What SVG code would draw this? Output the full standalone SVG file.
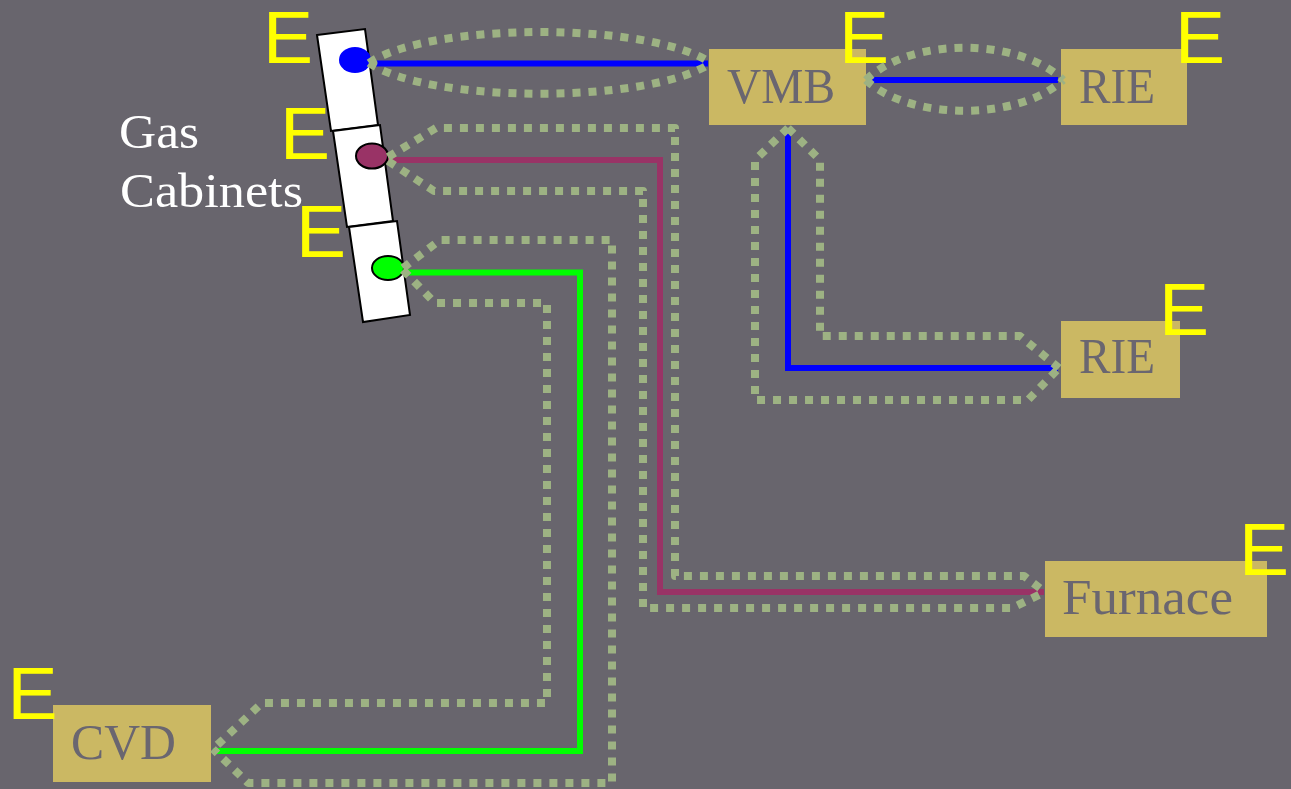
<svg xmlns="http://www.w3.org/2000/svg" width="1291" height="789" viewBox="0 0 1291 789">
<style>
.bg{fill:#68656d}
.box{fill:#cbb863}
.lbl{font-family:"Liberation Serif","Times New Roman",serif;font-size:50px;fill:#6a6670}
.e{font-family:"Liberation Sans",Arial,sans-serif;font-size:75px;fill:#ffff00}
.cab{fill:#ffffff;stroke:#000000;stroke-width:2}
.dot{fill:none;stroke:#9db283;stroke-width:8;stroke-dasharray:8 8;stroke-linejoin:round}
.pipe{fill:none;stroke-width:6}
.title{font-family:"Liberation Serif","Times New Roman",serif;font-size:48px;fill:#ffffff}
</style>
<rect class="bg" x="0" y="0" width="1291" height="789"/>
<g id="gas-cabinets">
<polygon class="cab" points="317,35 365,29 378,125 331,131"/>
<polygon class="cab" points="333,131 380,125 393,221 347,227"/>
<polygon class="cab" points="349,227 397,221 410,315 363,322"/>
<ellipse cx="355" cy="60" rx="16" ry="13" fill="#0000ff"/>
<ellipse cx="372" cy="156" rx="16" ry="12.5" fill="#993366" stroke="#000" stroke-width="2"/>
<ellipse cx="388" cy="268" rx="16" ry="12" fill="#00ff00" stroke="#000" stroke-width="2"/>
<text class="title" x="119" y="148" textLength="80" lengthAdjust="spacingAndGlyphs">Gas</text>
<text class="title" x="120" y="207" textLength="183" lengthAdjust="spacingAndGlyphs">Cabinets</text>
<text class="e" x="263" y="63">E</text>
<text class="e" x="280" y="159">E</text>
<text class="e" x="296" y="257">E</text>
</g>
<g id="vmb">
<rect class="box" x="709" y="49" width="157" height="76"/>
<text class="lbl" x="727" y="103" textLength="108" lengthAdjust="spacingAndGlyphs">VMB</text>
<text class="e" x="839" y="63">E</text>
</g>
<g id="rie-1">
<rect class="box" x="1061" y="49" width="126" height="76"/>
<text class="lbl" x="1079" y="103" textLength="76" lengthAdjust="spacingAndGlyphs">RIE</text>
<text class="e" x="1175" y="63">E</text>
</g>
<g id="rie-2">
<rect class="box" x="1061" y="321" width="119" height="77"/>
<text class="lbl" x="1079" y="373" textLength="76" lengthAdjust="spacingAndGlyphs">RIE</text>
<text class="e" x="1159" y="335">E</text>
</g>
<g id="furnace">
<rect class="box" x="1045" y="561" width="222" height="76"/>
<text class="lbl" x="1062" y="614" textLength="171" lengthAdjust="spacingAndGlyphs">Furnace</text>
<text class="e" x="1239" y="575">E</text>
</g>
<g id="cvd">
<rect class="box" x="53" y="705" width="158" height="77"/>
<text class="lbl" x="71" y="759" textLength="105" lengthAdjust="spacingAndGlyphs">CVD</text>
<text class="e" x="7.5" y="719">E</text>
</g>
<g id="connectors">
<path class="pipe" stroke="#0000ff" stroke-width="5" d="M370,63.5 H708"/>
<path class="pipe" stroke="#0000ff" stroke-width="5" d="M866,80 H1058"/>
<path class="pipe" stroke="#0000ff" d="M788,128 V368 H1058"/>
<path class="pipe" stroke="#993366" d="M388,160 H660 V592 H1044"/>
<path class="pipe" stroke="#00ff00" d="M403,272.5 H580 V751 H213"/>
<path class="dot" d="M369,63 C430,21.7 650,21.7 711,63"/>
<path class="dot" d="M369,63 C430,104 650,104 711,63"/>
<path class="dot" d="M866,80 C910,37 1019,37 1063,80"/>
<path class="dot" d="M866,80 C910,121 1019,121 1063,80"/>
<path class="dot" d="M788,128 L755,160 V400 H1028 L1059,368"/>
<path class="dot" d="M788,128 L820,160 V336 H1020 L1059,368"/>
<path class="dot" d="M388,157 L436,128 H675 V576 H1024 L1045,592"/>
<path class="dot" d="M388,161 L434,191 H643 V608 H1012 L1045,592"/>
<path class="dot" d="M403,268 L440,240 H612 V783 H248 L213,749"/>
<path class="dot" d="M403,270 L435,303 H547 V703 H262 L213,749"/>
</g>
</svg>
